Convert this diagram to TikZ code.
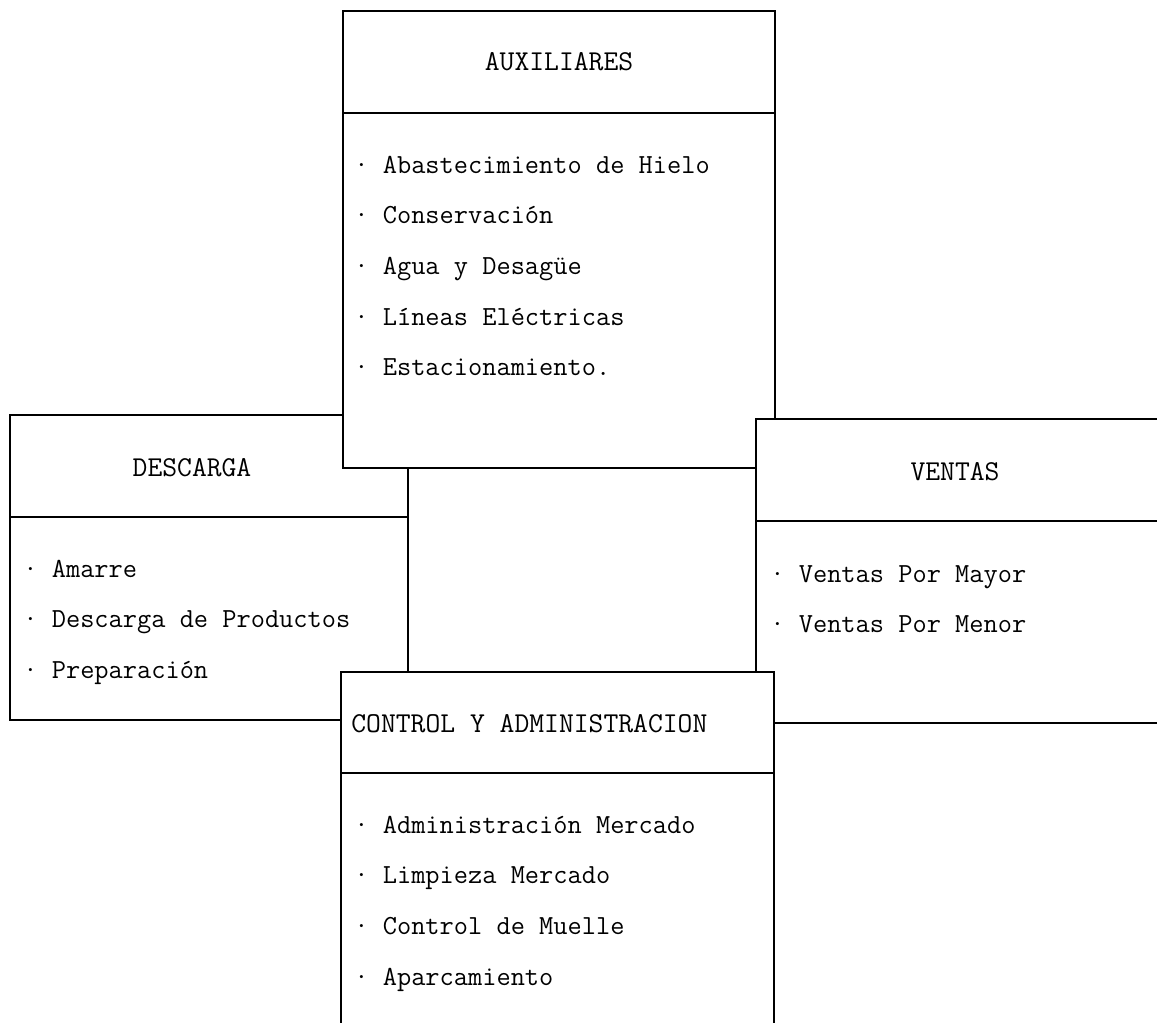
\documentclass[tikz,border=0pt]{standalone}
\begin{document}
\begin{tikzpicture}[x=0.5pt,y=-0.5pt,
	caja/.style={draw, fill=white, line width=0.8pt},
	linea/.style={line width=0.7pt},
	titulo/.style={font=\fontsize{14.4}{17}\selectfont\ttfamily, anchor=base, inner sep=0pt},
	item/.style={font=\fontsize{13.8}{16}\selectfont\ttfamily, anchor=base west, inner sep=0pt}]
	\useasboundingbox (0,0) rectangle (1157,1023);
	\clip (0,0) rectangle (1157,1023);
	% Draw the DESCARGA box
	\draw[caja] (10,415) rectangle (408,720);
	\draw[linea] (10,517) -- (408,517);
	\node[titulo] (descarga) at (192,476) {DESCARGA};
	\foreach \t [count=\i] in {Amarre, Descarga de Productos, Preparación} {
		\node[item] (descarga\i) at (23,{577+50.5*(\i-1)}) {\textperiodcentered\ \t};
	}
	% Draw the AUXILIARES box
	\draw[caja] (343,11) rectangle (775,468);
	\draw[linea] (343,113) -- (775,113);
	\node[titulo] (auxiliares) at (559,70) {AUXILIARES};
	\foreach \t [count=\i] in {Abastecimiento de Hielo, Conservación, Agua y Desagüe, Líneas Eléctricas, Estacionamiento.} {
		\node[item] (auxiliares\i) at (354,{173+50.7*(\i-1)}) {\textperiodcentered\ \t};
	}
	% Draw the VENTAS box
	\draw[caja] (756,419) rectangle (1170,723);
	\draw[linea] (756,521) -- (1170,521);
	\node[titulo] (ventas) at (955,480) {VENTAS};
	\foreach \t [count=\i] in {Ventas Por Mayor, Ventas Por Menor} {
		\node[item] (ventas\i) at (770,{582+50*(\i-1)}) {\textperiodcentered\ \t};
	}
	% Draw the CONTROL Y ADMINISTRACION box
	\draw[caja] (341,672) rectangle (774,1040);
	\draw[linea] (341,773) -- (774,773);
	\node[titulo, anchor=base west] (control) at (351,732) {CONTROL Y ADMINISTRACION};
	\foreach \t [count=\i] in {Administración Mercado, Limpieza Mercado, Control de Muelle, Aparcamiento} {
		\node[item] (control\i) at (354,{833+50.7*(\i-1)}) {\textperiodcentered\ \t};
	}
\end{tikzpicture}
\end{document}
